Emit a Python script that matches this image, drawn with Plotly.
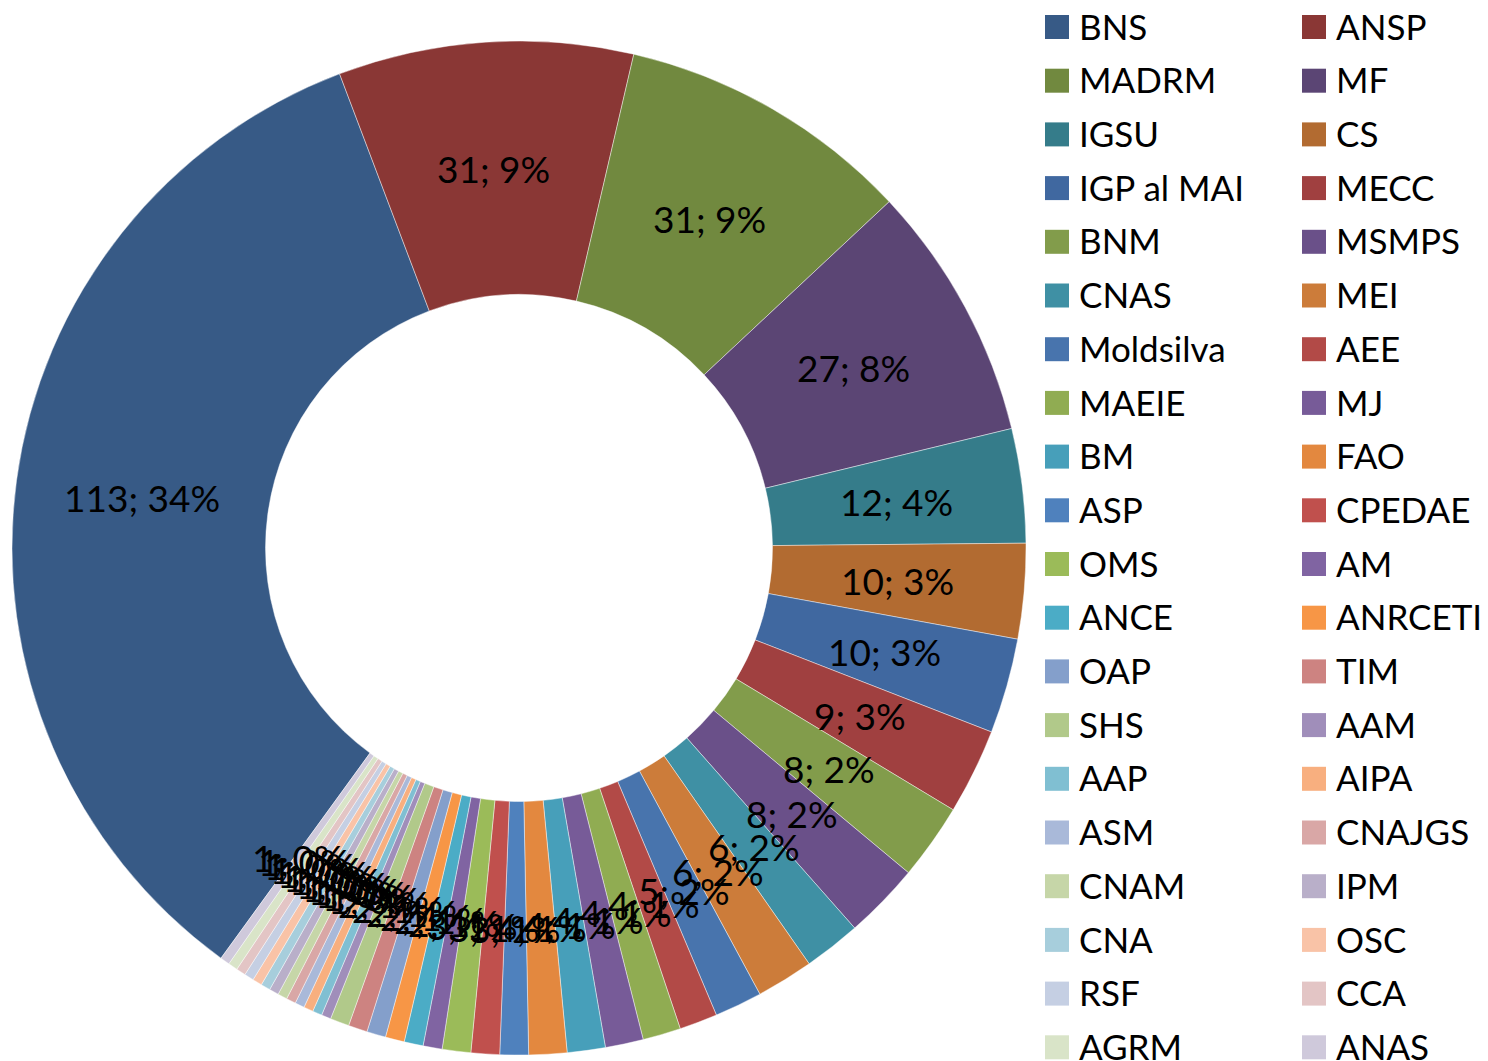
import math
import plotly.graph_objects as go

# ---------------- data ----------------
labels = ["BNS", "ANSP", "MADRM", "MF", "IGSU", "CS", "IGP al MAI", "MECC",
          "BNM", "MSMPS", "CNAS", "MEI", "Moldsilva", "AEE", "MAEIE", "MJ",
          "BM", "FAO", "ASP", "CPEDAE", "OMS", "AM", "ANCE", "ANRCETI",
          "OAP", "TIM", "SHS", "AAM", "AAP", "AIPA", "ASM", "CNAJGS",
          "CNAM", "IPM", "CNA", "OSC", "RSF", "CCA", "AGRM", "ANAS"]
values = [113, 31, 31, 27, 12, 10, 10, 9,
          8, 8, 6, 6, 5, 4, 4, 4,
          4, 4, 3, 3, 3, 2, 2, 2,
          2, 2, 2, 1, 1, 1, 1, 1,
          1, 1, 1, 1, 1, 1, 1, 1]
colors = ["#375A86", "#8A3735", "#71893F", "#5B4574", "#357C8A", "#B26B31",
          "#4068A0", "#A04040", "#829C4B", "#6A5089", "#3F90A4", "#CC7C3A",
          "#4874AD", "#B24A47", "#90AC52", "#775B98", "#479FBA", "#E3883F",
          "#4F81BD", "#C0504D", "#9BBB59", "#8064A2", "#4BACC6", "#F79646",
          "#849FCB", "#CD8381", "#B1C98A", "#A08EBA", "#80BFD2", "#F8AF7F",
          "#A9B9D9", "#D9A7A6", "#C6D6A8", "#B9AFC9", "#A7CEDC", "#F9C3A7",
          "#C5CFE3", "#E3C5C5", "#D9E4C8", "#CFC9DB"]

# ---------------- layout constants ----------------
OFF = 8                        # default page (body) margin of the html page
W, H = 1488 - OFF, 1061 - OFF  # figure size so that it fills the window
FONT = "Lato, Calibri, 'Open Sans', sans-serif"
start_angle = 216.0            # first slice starts here, clockwise from 12 o'clock
hole = 0.5
pie_left, pie_top, pie_size = 12 - OFF, 41 - OFF, 1014
dom_x = [pie_left / W, (pie_left + pie_size) / W]
dom_y = [1 - (pie_top + pie_size) / H, 1 - pie_top / H]

fig = go.Figure()

fig.add_trace(go.Pie(
    labels=labels, values=values, sort=False, direction="clockwise",
    rotation=start_angle, hole=hole, textinfo="none",
    marker=dict(colors=colors, line=dict(color="rgba(255,255,255,0.55)", width=0.8)),
    domain=dict(x=dom_x, y=dom_y), showlegend=False,
    hovertemplate="%{label}: %{value} (%{percent})<extra></extra>",
))

# ---------------- slice labels (value; percent) ----------------
total = sum(values)
r_mid = (1 + hole) / 2
cum = 0
annotations = []
for v in values:
    ang = math.radians(start_angle + (cum + v / 2) / total * 360)
    cum += v
    annotations.append(dict(
        x=r_mid * math.sin(ang), y=r_mid * math.cos(ang), xref="x", yref="y",
        text=f"{v}; {round(v / total * 100)}%", showarrow=False,
        xanchor="center", yanchor="middle",
        font=dict(family=FONT, size=37, color="#000000"),
    ))

# invisible scatter to hold the label axes
fig.add_trace(go.Scatter(x=[-1, 1], y=[-1, 1], mode="markers",
                         marker=dict(opacity=0), hoverinfo="skip",
                         showlegend=False, xaxis="x", yaxis="y"))

# ---------------- legend (two columns, row-major) ----------------
leg_col = [i % 2 for i in range(len(labels))]
leg_row = [i // 2 for i in range(len(labels))]
col_px0, col_step = 1057 - OFF, 257   # marker centre of first column, column spacing
row_px0, row_step = 27 - OFF, 53.7    # marker centre of first row, row spacing
text_dx = 22 / col_step
text_dy = 0.073

fig.add_trace(go.Scatter(
    x=leg_col, y=leg_row, mode="markers", xaxis="x2", yaxis="y2",
    marker=dict(symbol="square", size=24, color=colors, line=dict(width=0)),
    hoverinfo="skip", showlegend=False, cliponaxis=False,
))
fig.add_trace(go.Scatter(
    x=[c + text_dx for c in leg_col], y=[r + text_dy for r in leg_row],
    mode="text", text=labels, textposition="middle right",
    textfont=dict(family=FONT, size=35, color="#000000"),
    xaxis="x2", yaxis="y2", hoverinfo="skip", showlegend=False, cliponaxis=False,
))

leg_dom_left = 1000 - OFF
fig.update_layout(
    width=W, height=H,
    margin=dict(l=0, r=0, t=0, b=0, autoexpand=False),
    paper_bgcolor="#FFFFFF", plot_bgcolor="rgba(0,0,0,0)",
    showlegend=False,
    annotations=annotations,
    xaxis=dict(domain=dom_x, range=[-1, 1], visible=False, fixedrange=True),
    yaxis=dict(domain=dom_y, range=[-1, 1], visible=False, fixedrange=True),
    xaxis2=dict(domain=[leg_dom_left / W, 1],
                range=[(leg_dom_left - col_px0) / col_step, (W - col_px0) / col_step],
                visible=False, fixedrange=True, anchor="y2"),
    yaxis2=dict(domain=[0, 1],
                range=[(H - row_px0) / row_step, -row_px0 / row_step],
                visible=False, fixedrange=True, anchor="x2"),
)

fig.write_html("out.html")
